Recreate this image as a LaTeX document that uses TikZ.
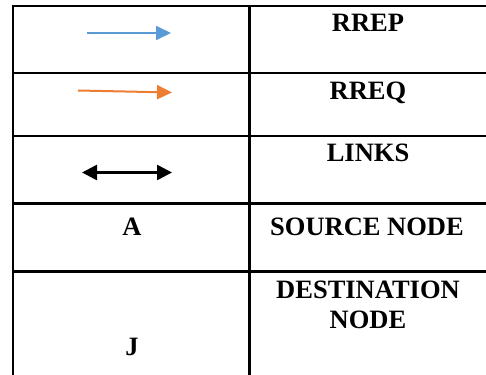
\documentclass[tikz,border=0pt]{standalone}
\usepackage{fontspec}
\setmainfont{Liberation Serif}
\usetikzlibrary{arrows.meta}
\definecolor{rrepblue}{HTML}{5B9BD5}
\definecolor{rreqorange}{HTML}{ED7D31}
\tikzset{
  rule/.style={line width=2.1pt, line cap=rect},
  label/.style={font=\fontsize{26.5}{30}\selectfont\bfseries, anchor=base, inner sep=0pt},
  legendarrow/.style={line width=2pt, -{Triangle[length=15pt,width=14pt]}},
}
\begin{document}
\begin{tikzpicture}[x=1pt, y=-1pt]
  \useasboundingbox (0,0) rectangle (486,374);
  % table grid
  \draw[rule] (13,6) -- (486,6);
  \draw[rule] (13,73) -- (486,73);
  \draw[rule] (13,136) -- (486,136);
  \draw[rule] (13,203.5) -- (486,203.5);
  \draw[rule] (13,271.5) -- (486,271.5);
  \draw[rule] (13,6) -- (13,380);
  \draw[rule] (249.5,6) -- (249.5,380);
  % legend symbols
  \coordinate (p1) at (87,33);  \coordinate (q1) at (171,33);
  \coordinate (p2) at (78,90.5); \coordinate (q2) at (172,92.5);
  \coordinate (p3) at (82,172.5); \coordinate (q3) at (172,172.5);
  \draw[legendarrow, rrepblue] (p1) -- (q1);
  \draw[legendarrow, rreqorange] (p2) -- (q2);
  \draw[line width=2.6pt, {Triangle[length=15pt,width=15pt]}-{Triangle[length=15pt,width=15pt]}] (p3) -- (q3);
  % labels
  \node[label] (rrep) at (368,32) {RREP};
  \node[label] (rreq) at (368,100) {RREQ};
  \node[label] (links) at (368,161.5) {LINKS};
  \node[label] (src) at (132,235) {A};
  \node[label] (srct) at (367,235) {SOURCE NODE};
  \node[label] (dsta) at (368,298) {DESTINATION};
  \node[label] (dstb) at (368,328) {NODE};
  \node[label] (dst) at (132,355) {J};
\end{tikzpicture}
\end{document}
